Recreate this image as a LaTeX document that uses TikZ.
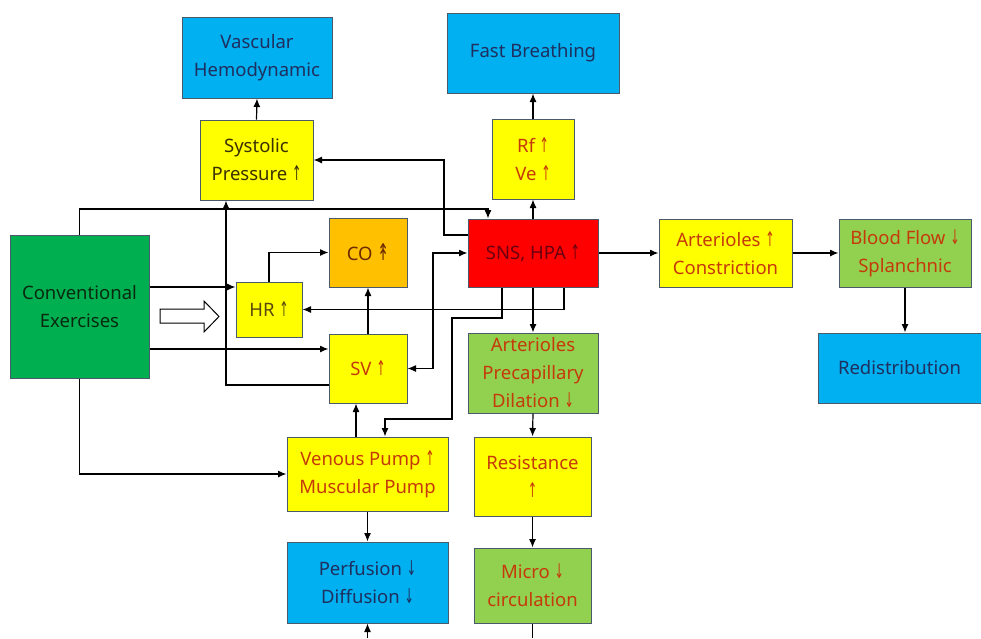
\documentclass[tikz,border=0pt]{standalone}
\usepackage{fontspec}
\setmainfont{Noto Sans}
\newfontfamily\arrfont{DejaVu Sans}
\usetikzlibrary{arrows.meta}
\definecolor{cblue}{HTML}{00B0F0}
\definecolor{cyellow}{HTML}{FFFF00}
\definecolor{cdgreen}{HTML}{00B050}
\definecolor{clgreen}{HTML}{92D050}
\definecolor{corange}{HTML}{FFC000}
\definecolor{cred}{HTML}{FF0000}
\definecolor{cborder}{HTML}{4A5A6A}
\definecolor{tnavy}{HTML}{1F2F5F}
\definecolor{tconv}{HTML}{0A2A10}
\definecolor{tsys}{HTML}{3A3000}
\definecolor{thr}{HTML}{5A4A10}
\definecolor{tco}{HTML}{6B2A00}
\definecolor{tsns}{HTML}{6A0010}
\definecolor{tred}{HTML}{C53A0A}
\newcommand\UA{\scalebox{0.6}[1.1]{\arrfont ↑}}
\newcommand\DA{\scalebox{0.6}[1.1]{\arrfont ↓}}
\newcommand\UUA{\scalebox{0.75}[1.25]{\arrfont ↟}}
\tikzset{
  box/.style={draw=cborder, line width=1pt, align=center, inner sep=0pt,
    font=\fontsize{18.5}{28}\selectfont},
  bluebox/.style={box, fill=cblue, text=tnavy},
  yelbox/.style={box, fill=cyellow, text=tred},
  lgbox/.style={box, fill=clgreen, text=tred},
  arr/.style={line width=1.2pt, -{Latex[length=8.5pt,width=7pt]}},
  arrb/.style={line width=1.2pt, {Latex[length=8.5pt,width=7pt]}-{Latex[length=8.5pt,width=7pt]}},
  plain/.style={line width=1.2pt}
}
\begin{document}
\begin{tikzpicture}[x=1pt,y=-1pt]
\useasboundingbox (0,0) rectangle (981,638);
% boxes
\node[bluebox, minimum width=150, minimum height=81] (vasc) at (257,57.5) {Vascular\\Hemodynamic};
\node[yelbox, text=tsys, minimum width=113, minimum height=80] (sys) at (256.5,160) {Systolic\\Pressure \UA};
\node[bluebox, minimum width=172, minimum height=80] (fast) at (533,53) {Fast Breathing};
\node[yelbox, minimum width=82, minimum height=80] (rf) at (533,159) {Rf \UA\\Ve \UA};
\node[box, fill=cdgreen, text=tconv, minimum width=139, minimum height=143] (conv) at (79.5,306.5) {Conventional\\Exercises};
\node[yelbox, text=thr, minimum width=66, minimum height=55] (hr) at (269,309.5) {HR \UA};
\node[box, fill=corange, text=tco, minimum width=78, minimum height=69] (co) at (368,252.5) {CO \UUA};
\node[yelbox, minimum width=78, minimum height=69] (sv) at (368,368.5) {SV \UA};
\node[box, fill=cred, text=tsns, minimum width=130, minimum height=68] (sns) at (533,253) {SNS, HPA \UA};
\node[lgbox, minimum width=130, minimum height=80] (prec) at (533,373) {Arterioles\\Precapillary\\Dilation \DA};
\node[yelbox, minimum width=161, minimum height=74] (ven) at (367.5,474) {Venous Pump \UA\\Muscular Pump};
\node[yelbox, minimum width=117, minimum height=79] (res) at (532.5,476.5) {Resistance\\\UA};
\node[bluebox, minimum width=161, minimum height=81] (perf) at (367.5,582.5) {Perfusion \DA\\Diffusion \DA};
\node[lgbox, minimum width=117, minimum height=75] (micro) at (532.5,585.5) {Micro \DA\\circulation};
\node[yelbox, minimum width=133, minimum height=68] (constr) at (725.5,253) {Arterioles \UA\\Constriction};
\node[lgbox, minimum width=132, minimum height=68] (blood) at (905,253) {Blood Flow \DA\\Splanchnic};
\node[bluebox, minimum width=163, minimum height=70] (redis) at (899.5,368) {Redistribution};
% hollow arrow
\draw[line width=1pt, fill=white] (160,309) -- (204,309) -- (204,301) -- (219,316.5) -- (204,332) -- (204,323) -- (160,323) -- cycle;
% free ends
\coordinate (mb) at (532.5,638);
\coordinate (pb) at (367.5,638);
% connectors
\draw[arr] (sys.north) -- (vasc.south);
\draw[arr] (rf.north) -- (fast.south);
\draw[arr] (sns.north) -- (rf.south);
\draw[arr] ([yshift=18pt]sns.west) -- (444,235) |- (sys.east);
\draw[arr] (conv.north) |- (488,209) -- ([xshift=-45pt]sns.north);
\draw[arr] ([yshift=19.5pt]conv.east) -- ([yshift=22.5pt]hr.west);
\draw[arr] ([yshift=-42.5pt]conv.east) -- ([yshift=19.5pt]sv.west);
\draw[arr] (conv.south) |- (ven.west);
\draw[arr] (hr.north) |- (co.west);
\draw[arr] (sv.north) -- (co.south);
\draw[arr] ([yshift=-16.5pt]sv.west) -| ([xshift=-30.5pt]sys.south);
\draw[arr] ([xshift=31pt]sns.south) |- (hr.east);
\draw[arrb] (sv.east) -| (433,253) -- (sns.west);
\draw[arr] ([xshift=-31pt]sns.south) |- (452,318) |- (385,419) -- ([xshift=17.5pt]ven.north);
\draw[arr] (sns.south) -- (prec.north);
\draw[arr] (prec.south) -- (res.north);
\draw[arr] (res.south) -- (micro.north);
\draw[plain] (micro.south) -- (mb);
\draw[arr] (ven.south) -- (perf.north);
\draw[arr] (pb) -- (perf.south);
\draw[arr] ([xshift=-11.5pt]ven.north) -- ([xshift=-12pt]sv.south);
\draw[arr] (sns.east) -- (constr.west);
\draw[arr] (constr.east) -- (blood.west);
\draw[arr] (blood.south) -- (blood.south |- redis.north);
\end{tikzpicture}
\end{document}
